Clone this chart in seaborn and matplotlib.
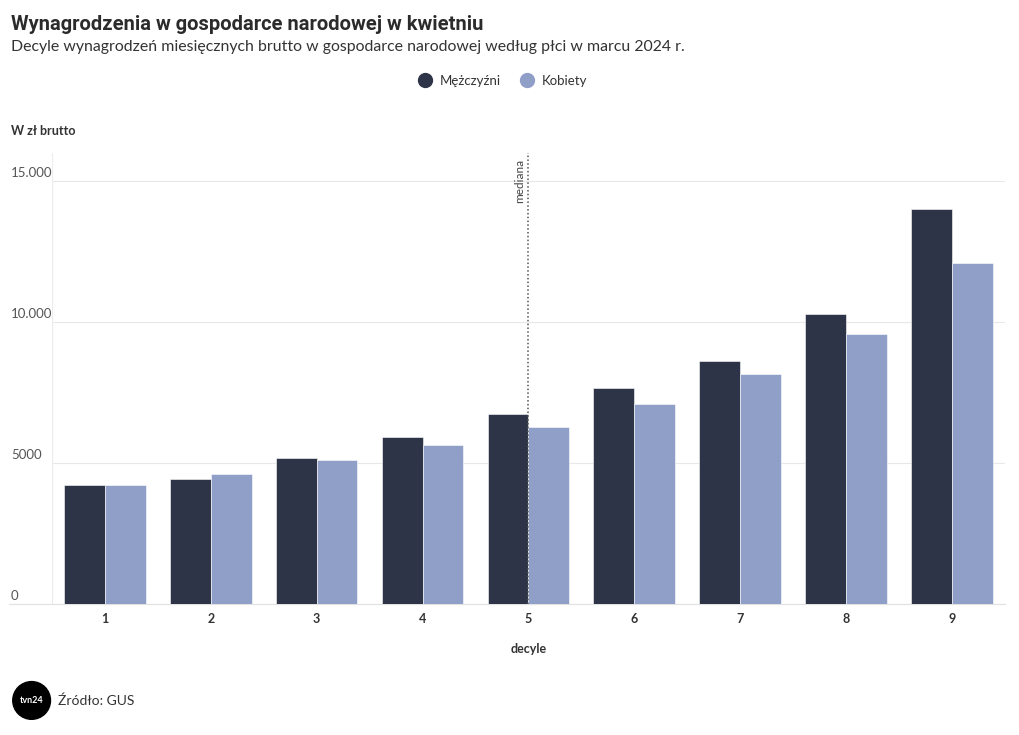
import pandas as pd
import matplotlib.pyplot as plt
import seaborn as sns
from matplotlib.lines import Line2D
from matplotlib.patches import Ellipse

# Data (PLN gross, March 2024)
decyle = ['1', '2', '3', '4', '5', '6', '7', '8', '9']
mezczyzni = [4220, 4440, 5170, 5920, 6730, 7650, 8610, 10280, 14010]
kobiety = [4220, 4610, 5100, 5630, 6270, 7090, 8160, 9570, 12100]
y_ticks = [0, 5000, 10000, 15000]
y_tick_labels = ['0', '5000', '10.000', '15.000']
mediana_x = 4  # decile 5 position

dark = '#2e3447'
light = '#8f9fc7'
text_dark = '#333333'
text_grey = '#555555'

df = pd.DataFrame({
    'decyl': decyle * 2,
    'wartosc': mezczyzni + kobiety,
    'plec': ['Mężczyźni'] * len(decyle) + ['Kobiety'] * len(decyle),
})

sns.set_theme(style='white')
plt.rcParams['font.family'] = ['Lato', 'DejaVu Sans']

fig = plt.figure(figsize=(10.2, 7.35), dpi=100)
ax = fig.add_axes([0.051, 0.178, 0.934, 0.614])

sns.barplot(data=df, x='decyl', y='wartosc', hue='plec',
            palette=[dark, light], saturation=1, width=0.77,
            edgecolor='white', linewidth=0.4, legend=False, ax=ax)

ax.set_xlim(-0.5, 8.5)
ax.set_ylim(0, 16000)
for s in ax.spines.values():
    s.set_visible(False)

# gridlines
for t in y_ticks[1:]:
    ax.axhline(t, color='#e8e8e8', lw=0.8, zorder=0)
ax.axhline(0, xmin=-0.045, xmax=1, color='#e2e2e2', lw=0.9, zorder=0, clip_on=False)
ax.axvline(-0.5, color='#ececec', lw=0.8, zorder=0)

# y labels just above the gridlines, left aligned
ax.set_yticks(y_ticks)
ax.set_yticklabels([])
ax.tick_params(axis='y', length=0)
for t, lab in zip(y_ticks, y_tick_labels):
    ax.text(-0.043, t + 60, lab, transform=ax.get_yaxis_transform(),
            ha='left', va='bottom', fontsize=9.5, color=text_grey)

ax.tick_params(axis='x', length=0, pad=6)
for lab in ax.get_xticklabels():
    lab.set_fontweight('bold')
    lab.set_fontsize(9)
    lab.set_color(text_dark)
ax.set_xlabel('decyle', fontsize=9, fontweight='bold', color=text_dark, labelpad=13)
ax.set_ylabel('')

# median marker
ax.axvline(mediana_x, color='#555555', lw=1.1, ls=(0, (1, 1.5)), zorder=3)
ax.text(mediana_x - 0.085, 15800, 'mediana', rotation=90, ha='center', va='top',
        fontsize=8.5, color='#444444')

# titles
fig.text(0.011, 0.967, 'Wynagrodzenia w gospodarce narodowej w kwietniu',
         fontsize=14.5, fontweight='bold', family=['Roboto', 'DejaVu Sans'],
         color='#2b2b2b', va='center', ha='left')
fig.text(0.011, 0.936, 'Decyle wynagrodzeń miesięcznych brutto w gospodarce narodowej według płci w marcu 2024 r.',
         fontsize=11.4, color='#333333', va='center', ha='left')
fig.text(0.011, 0.822, 'W zł brutto', fontsize=9, fontweight='bold',
         color=text_dark, va='center', ha='left')

# legend
handles = [Line2D([0], [0], marker='o', ls='', markersize=10, markerfacecolor=c,
                  markeredgecolor=c) for c in (dark, light)]
fig.legend(handles, ['Mężczyźni', 'Kobiety'], loc='center', bbox_to_anchor=(0.49, 0.89),
           ncol=2, frameon=False, fontsize=9.5, handletextpad=0.1, columnspacing=1.0,
           labelcolor='#333333')

# source + simple logo
logo = Ellipse((0.031, 0.047), 0.037, 0.037 * 1020 / 735, transform=fig.transFigure,
               color='black', clip_on=False)
fig.patches.append(logo)
fig.text(0.031, 0.047, 'tvn24', color='white', fontsize=6.5, fontweight='bold',
         ha='center', va='center')
fig.text(0.057, 0.046, 'Źródło: GUS', fontsize=10, color='#333333', va='center', ha='left')

plt.savefig('out.png', dpi=100)
